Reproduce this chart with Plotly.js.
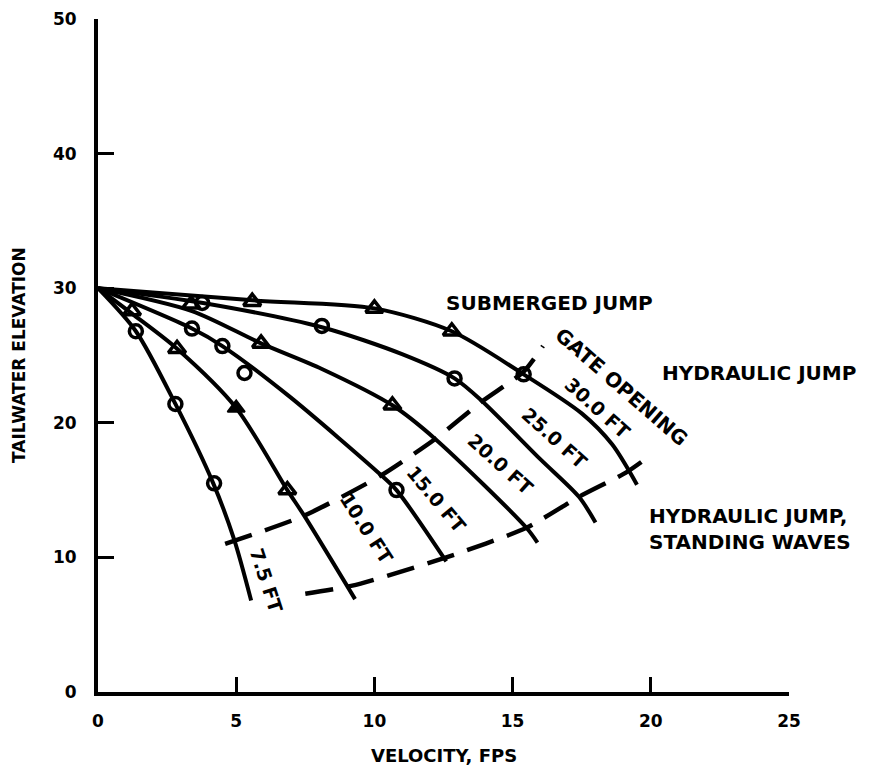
<!DOCTYPE html>
<html>
<head>
<meta charset="utf-8">
<script src="https://cdn.plot.ly/plotly-3.0.1.min.js"></script>
<style>
  html, body { margin: 0; padding: 0; background: #ffffff; }
  #chart { width: 870px; height: 773px; }
</style>
</head>
<body>
<div id="chart"></div>
<script>
// ---- Data ----
// Gate-opening curves (velocity in FPS, tailwater elevation)
const gate75_x  = [0, 1.37, 2.8, 4.17, 4.93, 5.54];
const gate75_y  = [30, 26.8, 21.4, 15.5, 11.3, 6.8];
const gate10_x  = [0, 1.3, 2.86, 5.0, 6.85, 7.46, 9.3];
const gate10_y  = [30, 28.0, 25.5, 21.1, 15.0, 13.1, 6.9];
const gate15_x  = [0, 3.4, 4.5, 6.9, 10.25, 10.8, 12.6];
const gate15_y  = [30, 27.0, 25.7, 22.0, 16.1, 15.0, 9.7];
const gate20_x  = [0, 3.4, 5.9, 8.1, 10.65, 12.2, 15.5, 15.9];
const gate20_y  = [30, 28.3, 25.9, 24.0, 21.3, 18.8, 12.2, 11.1];
const gate25_x  = [0, 3.8, 8.1, 11.0, 12.9, 13.9, 16.0, 17.4, 18.0];
const gate25_y  = [30, 28.9, 27.1, 25.1, 23.3, 21.6, 17.3, 14.5, 12.6];
const gate30_x  = [0, 5.6, 10.0, 12.8, 15.4, 17.5, 18.6, 19.5];
const gate30_y  = [30, 29.1, 28.5, 26.8, 23.6, 20.7, 18.4, 15.4];

// Regime boundaries (dashed)
const upperBound_x = [4.6, 7.46, 10.25, 12.2, 13.9, 15.4, 16.1];
const upperBound_y = [11.0, 13.1, 16.1, 18.8, 21.6, 23.8, 25.7];
const lowerBound_x = [7.5, 9.2, 12.6, 15.5, 17.4, 19.1, 20.0];
const lowerBound_y = [7.3, 7.9, 10.0, 12.2, 14.5, 16.3, 17.6];

// Observed points
const circle_x = [1.37, 3.77, 3.4, 4.5, 5.3, 2.8, 4.2, 8.1, 10.8, 12.9, 15.4];
const circle_y = [26.8, 28.9, 27.0, 25.7, 23.7, 21.4, 15.5, 27.2, 15.0, 23.3, 23.6];
const triangle_x = [1.23, 3.37, 5.58, 2.86, 5.9, 6.85, 10.0, 10.65, 12.8];
const triangle_y = [28.3, 28.8, 29.0, 25.5, 25.9, 15.0, 28.5, 21.3, 26.8];
const filledTri_x = [5.0];
const filledTri_y = [21.1];

// Tick labels
const xTicks = [0, 5, 10, 15, 20, 25];
const yTicks = [0, 10, 20, 30, 40, 50];

// Curve labels
const curveLabels = ['7.5 FT', '10.0 FT', '15.0 FT', '20.0 FT', '25.0 FT', '30.0 FT'];
const curveLabel_x = [6.1, 9.72, 12.25, 14.57, 16.53, 18.08];
const curveLabel_y = [8.35, 12.2, 14.37, 16.96, 18.9, 21.12];
const curveLabel_angle = [72, 57, 50, 42, 42, 42];

// ---- Build traces ----
const BOLD = 'DejaVu Sans, Liberation Sans, Arial, sans-serif';
const curves = [
  [gate75_x, gate75_y], [gate10_x, gate10_y], [gate15_x, gate15_y],
  [gate20_x, gate20_y], [gate25_x, gate25_y], [gate30_x, gate30_y]
];
const traces = curves.map(c => ({
  x: c[0], y: c[1], mode: 'lines', type: 'scatter',
  line: {color: '#000', width: 4, shape: 'spline', smoothing: 0.8},
  hoverinfo: 'skip', showlegend: false
}));
[[upperBound_x, upperBound_y], [lowerBound_x, lowerBound_y]].forEach(b => {
  traces.push({
    x: b[0], y: b[1], mode: 'lines', type: 'scatter',
    line: {color: '#000', width: 4.5, dash: '28px,14px', shape: 'spline', smoothing: 0.6},
    hoverinfo: 'skip', showlegend: false
  });
});
traces.push({
  x: circle_x, y: circle_y, mode: 'markers', type: 'scatter',
  marker: {symbol: 'circle-open', size: 13, color: '#000', line: {color: '#000', width: 3.5}},
  showlegend: false
});
traces.push({
  x: triangle_x, y: triangle_y, mode: 'markers', type: 'scatter',
  marker: {symbol: 'triangle-up-open', size: 15, color: '#000', line: {color: '#000', width: 3.5}},
  showlegend: false
});
traces.push({
  x: filledTri_x, y: filledTri_y, mode: 'markers', type: 'scatter',
  marker: {symbol: 'triangle-up', size: 15, color: '#000', line: {color: '#000', width: 2}},
  showlegend: false
});

const annotations = curveLabels.map((t, i) => ({
  text: t, x: curveLabel_x[i], y: curveLabel_y[i], xref: 'x', yref: 'y',
  xanchor: 'center', yanchor: 'middle',
  showarrow: false, textangle: curveLabel_angle[i],
  font: {family: BOLD, size: 19, color: '#000', weight: 'bold'}
}));
annotations.push(
  {text: 'GATE OPENING', x: 18.95, y: 22.68, xref: 'x', yref: 'y', showarrow: false, textangle: 41,
   xanchor: 'center', yanchor: 'middle',
   font: {family: BOLD, size: 20, color: '#000', weight: 'bold'}},
  {text: 'SUBMERGED JUMP', x: 16.35, y: 28.88, xref: 'x', yref: 'y', showarrow: false,
   xanchor: 'center', yanchor: 'middle',
   font: {family: BOLD, size: 20, color: '#000', weight: 'bold'}},
  {text: 'HYDRAULIC JUMP', x: 23.9, y: 23.72, xref: 'x', yref: 'y', showarrow: false,
   xanchor: 'center', yanchor: 'middle',
   font: {family: BOLD, size: 20, color: '#000', weight: 'bold'}},
  {text: 'HYDRAULIC JUMP,<br>STANDING WAVES', x: 19.86, y: 12.14, xref: 'x', yref: 'y',
   xanchor: 'left', yanchor: 'middle', align: 'left', showarrow: false,
   font: {family: BOLD, size: 20, color: '#000', weight: 'bold'}},
  {text: 'TAILWATER ELEVATION', x: -0.115, y: 0.5, xref: 'paper', yref: 'paper',
   xanchor: 'center', yanchor: 'middle',
   showarrow: false, textangle: -90,
   font: {family: BOLD, size: 17, color: '#000', weight: 'bold'}},
  {text: 'VELOCITY, FPS', x: 0.5, y: -0.094, xref: 'paper', yref: 'paper',
   xanchor: 'center', yanchor: 'middle',
   showarrow: false,
   font: {family: BOLD, size: 18, color: '#000', weight: 'bold'}}
);

const TICKFONT = {family: BOLD, size: 17, color: '#000', weight: 'bold'};
const layout = {
  width: 870, height: 773,
  margin: {l: 98, r: 81, t: 19, b: 81},
  paper_bgcolor: '#fff', plot_bgcolor: '#fff',
  showlegend: false,
  xaxis: {
    range: [0, 25], tickvals: xTicks, ticktext: xTicks.map(String),
    showline: true, linewidth: 4, linecolor: '#000',
    ticks: 'inside', ticklen: 15, tickwidth: 3, tickcolor: '#000',
    showgrid: false, zeroline: false, ticklabelstandoff: 11,
    tickfont: TICKFONT
  },
  yaxis: {
    range: [0, 50], tickvals: yTicks, ticktext: yTicks.map(String),
    showline: true, linewidth: 4, linecolor: '#000',
    ticks: 'inside', ticklen: 16, tickwidth: 3, tickcolor: '#000',
    showgrid: false, zeroline: false, ticklabelstandoff: 14,
    tickfont: TICKFONT
  },
  annotations: annotations
};

Plotly.newPlot('chart', traces, layout, {staticPlot: true, displayModeBar: false});
</script>
</body>
</html>
